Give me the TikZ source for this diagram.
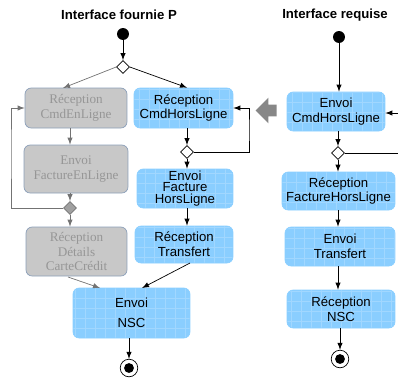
\documentclass[tikz,border=0pt]{standalone}
\usepackage{fontspec}
\setmainfont{Liberation Serif}
\setsansfont{Liberation Sans}
\usepackage{tikz}
\usetikzlibrary{shapes,arrows}
\definecolor{actblue}{RGB}{138,206,255}
\definecolor{offfill}{RGB}{200,200,200}
\definecolor{offedge}{RGB}{140,160,185}
\definecolor{offtext}{RGB}{150,150,150}
\definecolor{linegray}{RGB}{115,115,115}
\definecolor{bigarrow}{RGB}{135,135,135}
\tikzset{
  act/.style={rectangle, rounded corners=3.5pt, fill=actblue, draw=actblue,
    align=center, inner sep=1pt, font=\sffamily\fontsize{7.5}{8.5}\selectfont,
    path picture={\draw[white, opacity=0.2, line width=0.3pt, step=0.2cm]
      (path picture bounding box.south west) grid (path picture bounding box.north east);}},
  off/.style={rectangle, rounded corners=3.5pt, fill=offfill, draw=offedge,
    text=offtext, align=center, inner sep=1pt, font=\rmfamily\fontsize{7.5}{8.5}\selectfont},
  choice/.style={diamond, draw, fill=white, inner sep=0pt, minimum width=7.4pt, minimum height=7.4pt},
  offchoice/.style={choice, fill=offfill!80!black, draw=linegray},
  start/.style={circle, fill=black, inner sep=0pt, minimum size=6.8pt},
  stop/.style={circle, draw, fill=white, inner sep=0pt, minimum size=10pt,
    path picture={\fill[black] (path picture bounding box.center) circle (2.8pt);}},
  title/.style={font=\sffamily\bfseries\fontsize{7.5}{9}\selectfont},
  flow/.style={-latex, black},
  offflow/.style={-latex, linegray}
}
\begin{document}
\begin{tikzpicture}[x=0.02cm, y=-0.02cm]
\useasboundingbox (0,0) rectangle (398,380);
% interface fournie
\node[title] (tl) at (119,15) {Interface fournie P};
\node[start] (ls) at (123,34) {};
\node[choice] (ld) at (123,67) {};
\node[off, minimum width=2.04cm, minimum height=0.8cm] (g1) at (76,108) {R\'eception\\CmdEnLigne};
\node[off, minimum width=2.08cm, minimum height=0.96cm] (g2) at (76,169) {Envoi\\FactureEnLigne};
\node[offchoice] (gd) at (70,208) {};
\node[off, minimum width=2.02cm, minimum height=0.98cm] (g3) at (76.5,251.5) {R\'eception\\D\'etails\\CarteCr\'edit};
\node[act, minimum width=1.98cm, minimum height=0.8cm] (b1) at (183.5,108) {R\'eception\\CmdHorsLigne};
\node[choice] (bd) at (187,152) {};
\node[act, minimum width=1.92cm, minimum height=0.78cm, font=\sffamily\fontsize{7.5}{6.4}\selectfont] (b2) at (185,188.5) {Envoi\\Facture\\HorsLigne};
\node[act, minimum width=1.96cm, minimum height=0.74cm] (b3) at (184,244.5) {R\'eception\\Transfert};
\node[act, minimum width=2.34cm, minimum height=1cm] (b4) at (131.5,313) {Envoi\\[3pt]NSC};
\node[stop] (le) at (129,368) {};
\coordinate (lloop) at (11,150);
\coordinate (bloop) at (249,130);
% interface requise
\node[title] (tr) at (335,15) {Interface requise};
\node[start] (rs) at (339,37) {};
\node[act, minimum width=1.96cm, minimum height=0.78cm] (r1) at (336,111.5) {Envoi\\CmdHorsLigne};
\node[choice] (rd) at (338,153) {};
\node[act, minimum width=2.26cm, minimum height=0.76cm] (r2) at (338.5,191) {R\'eception\\FactureHorsLigne};
\node[act, minimum width=2.2cm, minimum height=0.78cm] (r3) at (340,246.5) {Envoi\\Transfert};
\node[act, minimum width=2.16cm, minimum height=0.76cm] (r4) at (341,309) {R\'eception\\NSC};
\node[stop] (re) at (340,359) {};
\coordinate (rin) at (398,113);
\coordinate (rout) at (398,153);
\node[single arrow, shape border rotate=180, fill=bigarrow, inner xsep=0.145cm, inner ysep=0.11cm,
  single arrow head extend=0.14cm] (push) at (269,110.5) {};
% flows
\draw[flow] (ls) -- (ld.north);
\draw[offflow] (ld.west) -- (63,88);
\draw[flow] (ld.east) -- (b1.north -| bd);
\draw[offflow] (g1.south -| gd) -- (g2.north -| gd);
\draw[offflow] (g2.south -| gd) -- (gd.north);
\draw[offflow] (gd.south) -- (g3.north -| gd);
\draw[offflow] (gd.west) -| (lloop) |- (g1.west);
\draw[offflow] (68,277) -- (100,288);
\draw[flow] (b1.south -| bd) -- (bd.north);
\draw[flow] (bd.south) -- (b2.north -| bd);
\draw[flow] (b2.south -| bd) -- (b3.north -| bd);
\draw[flow] (bd.east) -| (bloop) |- (b1.east);
\draw[flow] (190,263) -- (142,288);
\draw[flow] (b4.south -| le) -- (le);
\draw[flow] (rs) -- (r1.north -| rs);
\draw[flow] (r1.south -| rd) -- (rd.north);
\draw[flow] (rd.south) -- (r2.north -| rd);
\draw[flow] (r2.south -| rd) -- (r3.north -| rd);
\draw[flow] (r3.south -| rd) -- (r4.north -| rd);
\draw[flow] (r4.south -| re) -- (re);
\draw[flow] (rin) -- (rin -| r1.east);
\draw (rd.east) -- (rout);
\end{tikzpicture}
\end{document}
